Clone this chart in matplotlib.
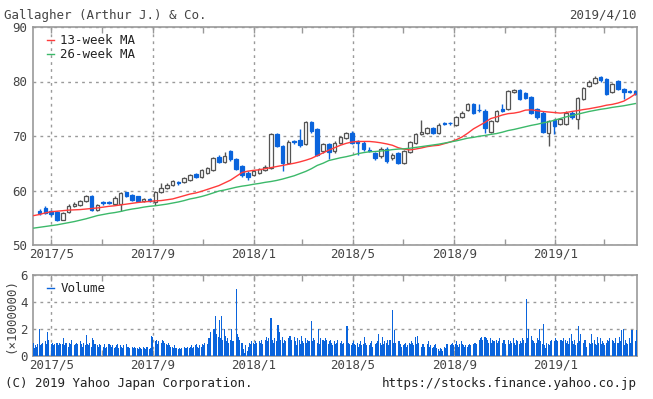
import numpy as np
import pandas as pd
import matplotlib
matplotlib.use("Agg")
import matplotlib.pyplot as plt
import matplotlib.dates as mdates
import matplotlib.lines as mlines

# ---------------- data ----------------
title = "Gallagher (Arthur J.) & Co."
date_label = "2019/4/10"
ma_labels = ["13-week MA", "26-week MA"]
vol_label = "Volume"

# weekly candles (week start Monday), from 2017-04-17
opens = [56.2, 56.7, 56.3, 56.1, 54.6, 56.1, 57.1, 57.4, 58.0, 59.0,
         56.4, 57.9, 57.9, 57.6, 57.6, 59.7, 59.2, 58.9, 58.0, 58.4,
         57.8, 59.8, 60.4, 61.0, 61.5, 61.5, 62.0, 63.0, 62.5, 63.2,
         63.8, 66.2, 65.3, 67.2, 65.8, 64.5, 63.3, 62.9, 63.3, 63.8,
         64.2, 70.3, 68.2, 65.1, 69.0, 69.2, 68.5, 72.6, 71.2, 67.2,
         68.6, 67.2, 68.8, 69.7, 70.6, 69.1, 68.8, 67.5, 66.9, 66.3,
         67.7, 65.9, 66.8, 65.1, 67.0, 68.8, 70.3, 70.6, 71.4, 70.6,
         72.3, 72.4, 72.1, 73.5, 74.7, 75.8, 74.8, 74.6, 70.8, 72.7,
         74.9, 74.9, 78.1, 78.4, 77.8, 77.1, 74.9, 74.3, 70.6, 72.9,
         72.2, 72.2, 74.3, 73.1, 76.8, 79.1, 79.7, 80.9, 80.5, 78.0,
         80.0, 78.6, 78.3, 78.2]
closes = [55.8, 55.9, 55.7, 54.6, 55.8, 57.2, 57.5, 58.0, 59.0, 56.4,
          57.3, 57.7, 57.7, 58.7, 59.6, 59.0, 58.3, 58.0, 58.5, 58.0,
          59.8, 60.4, 61.0, 61.8, 61.3, 62.3, 62.9, 62.5, 63.7, 64.2,
          66.0, 65.2, 66.4, 65.8, 64.0, 62.8, 62.5, 63.5, 63.9, 64.4,
          70.4, 68.2, 65.1, 68.9, 68.9, 68.3, 72.6, 70.9, 66.6, 68.6,
          67.1, 68.8, 69.8, 70.5, 68.8, 68.8, 67.6, 67.3, 65.9, 67.7,
          65.4, 66.6, 65.1, 67.2, 68.9, 70.3, 70.7, 71.4, 70.5, 72.1,
          72.2, 72.3, 73.4, 74.3, 75.8, 74.3, 74.7, 71.5, 72.8, 74.6,
          74.6, 78.2, 78.5, 76.8, 76.9, 74.3, 73.4, 70.8, 72.8, 71.9,
          73.1, 74.3, 73.4, 77.0, 78.8, 80.0, 80.7, 80.2, 77.7, 79.6,
          78.6, 78.0, 78.0, 77.7]
highs = [56.6, 57.2, 56.5, 56.3, 56.0, 57.5, 57.8, 58.3, 59.2, 59.1,
         57.6, 58.0, 58.0, 58.9, 59.7, 59.8, 59.3, 59.0, 58.7, 58.6,
         60.0, 61.3, 61.3, 62.0, 61.7, 62.5, 63.1, 63.2, 63.9, 64.4,
         66.2, 66.5, 67.0, 67.4, 66.0, 64.7, 63.5, 63.7, 64.1, 64.6,
         70.6, 70.5, 68.4, 69.2, 69.3, 71.2, 72.8, 72.7, 71.4, 68.8,
         68.8, 69.0, 70.0, 70.7, 70.9, 69.3, 69.0, 67.9, 67.1, 67.9,
         67.9, 66.8, 67.0, 67.4, 69.1, 70.5, 73.0, 71.6, 71.6, 72.3,
         72.5, 72.6, 73.6, 74.5, 76.1, 76.0, 75.9, 75.0, 73.0, 74.8,
         75.8, 78.4, 78.7, 78.6, 78.0, 77.3, 75.1, 74.5, 73.0, 73.1,
         73.3, 74.5, 74.5, 77.2, 79.0, 80.2, 81.0, 81.1, 80.7, 79.8,
         80.2, 78.8, 78.5, 78.4]
lows = [55.5, 55.6, 55.4, 54.4, 54.5, 55.9, 56.9, 57.2, 57.8, 56.2,
        56.2, 57.4, 57.5, 57.4, 56.2, 58.8, 58.1, 57.8, 57.8, 57.8,
        57.4, 59.6, 60.2, 60.8, 61.0, 61.3, 61.8, 62.3, 62.3, 63.0,
        63.6, 65.0, 65.1, 65.5, 63.8, 62.5, 62.0, 62.6, 63.0, 63.6,
        64.0, 67.9, 63.6, 64.9, 68.6, 68.0, 68.3, 70.5, 66.3, 66.9,
        65.7, 66.9, 68.6, 69.5, 68.5, 66.6, 67.3, 67.0, 65.6, 66.0,
        65.1, 65.6, 64.9, 64.9, 66.8, 68.6, 70.1, 70.4, 70.3, 70.4,
        72.0, 72.1, 71.9, 73.3, 74.5, 74.1, 74.4, 70.6, 70.6, 72.5,
        74.4, 74.7, 77.9, 76.6, 76.7, 74.1, 73.2, 70.6, 68.1, 70.4,
        72.0, 72.0, 73.2, 71.2, 76.6, 78.9, 79.5, 80.0, 77.5, 77.8,
        78.4, 76.8, 77.8, 77.5]

# moving averages, weekly from 2017-04-10
ma13 = [55.4, 55.6, 55.9, 56.1, 56.2, 56.3, 56.4, 56.45, 56.5, 56.6,
        56.7, 56.8, 56.95, 57.1, 57.2, 57.35, 57.5, 57.65, 57.8, 57.9,
        58.0, 58.1, 58.15, 58.3, 58.45, 58.75, 59.05, 59.35, 59.55, 59.85,
        60.2, 60.55, 60.9, 61.4, 61.9, 62.6, 63.3, 63.55, 63.7, 63.8,
        64.0, 64.2, 64.4, 64.6, 64.8, 65.0, 65.25, 65.55, 65.9, 66.4,
        66.9, 67.4, 67.85, 68.3, 68.65, 68.9, 69.0, 69.0, 69.0, 68.9,
        68.75, 68.55, 68.3, 67.85, 67.6, 67.45, 67.6, 67.8, 68.05, 68.2,
        68.3, 68.6, 68.9, 69.3, 69.8, 70.5, 71.3, 71.9, 72.5, 73.2,
        73.5, 73.85, 74.1, 74.2, 74.4, 74.75, 74.8, 74.65, 74.5, 74.4,
        74.3, 74.2, 74.3, 74.5, 74.65, 74.85, 75.0, 75.2, 75.4, 75.65,
        75.8, 76.05, 76.4, 77.0, 77.7]
ma26 = [53.1, 53.25, 53.4, 53.55, 53.7, 53.9, 54.1, 54.3, 54.55, 54.8,
        55.1, 55.4, 55.6, 55.8, 55.95, 56.15, 56.4, 56.6, 56.75, 56.95,
        57.1, 57.2, 57.35, 57.5, 57.7, 57.9, 58.15, 58.45, 58.65, 58.9,
        59.2, 59.55, 59.9, 60.1, 60.35, 60.6, 60.8, 60.95, 61.15, 61.3,
        61.5, 61.65, 61.85, 62.1, 62.4, 62.7, 63.1, 63.5, 64.0, 64.6,
        65.0, 65.5, 65.75, 66.0, 66.2, 66.45, 66.75, 66.95, 67.1, 67.15,
        67.25, 67.35, 67.5, 67.6, 67.65, 67.75, 67.9, 68.05, 68.2, 68.35,
        68.5, 68.7, 68.9, 69.1, 69.35, 69.6, 69.75, 69.95, 70.1, 70.3,
        70.45, 70.7, 71.0, 71.2, 71.45, 71.7, 71.95, 72.15, 72.4, 72.6,
        72.9, 73.2, 73.5, 73.75, 74.0, 74.25, 74.5, 74.7, 74.9, 75.05,
        75.25, 75.4, 75.55, 75.75, 75.95]

# daily volume (millions), business days from 2017-04-10
volume = [
    1.0, 0.6, 0.8, 0.7, 0.9,  2.0, 0.8, 0.9, 1.0, 0.8,  1.1, 0.7, 0.9, 1.75, 1.2,
    0.7, 0.9, 1.0, 0.8, 0.9,  1.0, 0.7, 0.8, 1.0, 0.9,  0.9, 1.3, 0.8, 0.9, 1.0,
    0.7, 1.0, 0.9, 0.8, 1.2,  0.8, 0.9, 0.7, 1.0, 0.9,  1.1, 0.8, 0.9, 0.7, 1.0,
    0.8, 1.55, 0.9, 0.8, 1.0,  0.7, 1.3, 1.2, 0.8, 0.9,  0.8, 0.7, 0.9, 0.6, 0.8,
    0.7, 0.9, 0.8, 0.6, 0.7,  0.9, 0.6, 0.8, 0.7, 0.8,  0.6, 0.7, 0.8, 0.9, 0.6,
    0.8, 0.7, 0.6, 0.8, 0.7,  0.9, 0.6, 0.7, 0.5, 0.6,  0.7, 0.6, 0.5, 0.7, 0.6,
    0.6, 0.5, 0.7, 0.6, 0.5,  0.7, 0.6, 0.5, 0.6, 0.7,  0.5, 0.6, 1.5, 1.4, 1.2,
    1.1, 1.0, 1.2, 0.9, 1.1,  1.0, 0.9, 1.2, 1.1, 1.0,  0.9, 0.8, 1.0, 0.8, 0.7,
    0.7, 0.6, 0.8, 0.5, 0.6,  0.5, 0.6, 0.4, 0.5, 0.6,  0.7, 0.6, 0.5, 0.6, 0.7,
    0.6, 0.7, 0.8, 0.6, 0.7,  0.8, 0.9, 0.7, 0.6, 0.8,  0.7, 0.9, 0.6, 0.8, 1.0,
    0.9, 1.0, 1.3, 1.1, 1.8,  1.2, 2.0, 1.4, 3.0, 1.6,  1.4, 2.7, 1.3, 3.0, 1.2,
    2.0, 1.5, 1.1, 1.3, 1.0,  1.2, 2.0, 0.9, 1.1, 1.0,  5.0, 1.6, 1.0, 1.4, 1.2,
    1.0, 0.3, 0.5, 0.2, 0.8,  0.4, 0.7, 1.0, 0.9, 1.1,  1.0, 0.9, 1.1, 0.8, 1.0,
    1.1, 0.9, 1.0, 1.2, 0.9,  1.0, 1.2, 1.4, 1.1, 1.3,  2.8, 1.5, 1.2, 1.0, 1.3,
    1.1, 2.3, 2.3, 1.8, 1.2,  1.4, 1.0, 1.2, 0.9, 1.1,  1.3, 1.0, 1.5, 0.9, 1.2,
    1.0, 1.4, 1.1, 0.8, 1.3,  1.2, 0.9, 1.5, 1.1, 1.0,  1.3, 1.0, 1.2, 0.9, 1.1,
    2.6, 1.1, 1.0, 1.3, 1.2,  1.0, 2.0, 1.1, 0.9, 1.3,  1.2, 1.0, 1.1, 1.3, 1.2,
    0.9, 1.1, 1.2, 1.0, 0.8,  1.1, 0.9, 1.0, 1.2, 0.8,  1.0, 1.1, 0.9, 0.8, 1.0,
    0.9, 2.2, 1.3, 1.0, 0.9,  0.8, 1.0, 1.1, 0.9, 0.8,  1.0, 0.7, 0.9, 1.1, 0.8,
    0.9, 1.4, 1.0, 0.8, 0.7,  0.8, 1.0, 0.9, 1.1, 0.7,  0.9, 0.6, 1.0, 1.1, 1.6,
    1.0, 0.8, 1.4, 0.9, 1.1,  1.0, 1.2, 0.8, 1.0, 1.2,  3.4, 1.0, 0.9, 1.9, 1.0,
    0.9, 1.1, 0.8, 0.9, 0.7,  0.8, 0.9, 1.0, 0.7, 0.8,  1.0, 0.9, 1.1, 1.0, 0.8,
    1.4, 0.9, 1.5, 0.8, 1.0,  0.7, 0.9, 0.8, 0.9, 0.7,  0.8, 0.9, 1.1, 0.7, 0.8,
    0.6, 0.7, 0.8, 0.9, 0.6,  0.5, 0.4, 0.6, 0.5, 0.4,  0.7, 0.6, 0.8, 0.9, 0.7,
    0.8, 0.9, 0.7, 1.0, 0.8,  0.9, 1.1, 0.8, 0.7, 0.9,  1.1, 0.9, 0.8, 0.7, 0.8,
    0.7, 0.8, 0.9, 0.6, 0.8,  0.9, 0.7, 1.0, 0.8, 0.9,  1.2, 1.0, 1.3, 1.4, 1.2,
    1.4, 1.1, 1.3, 1.2, 1.0,  1.3, 1.0, 1.2, 0.9, 1.1,  1.2, 1.0, 0.9, 1.1, 1.3,
    1.0, 0.8, 1.2, 1.1, 0.9,  1.0, 1.2, 0.9, 1.1, 1.0,  1.3, 1.0, 0.8, 1.2, 1.1,
    0.9, 1.1, 1.0, 1.3, 1.2,  1.0, 4.2, 1.0, 1.3, 2.0,  1.5, 0.9, 1.2, 1.1, 1.0,
    1.0, 1.3, 1.2, 2.0, 1.1,  0.9, 2.4, 0.8, 0.6, 1.0,  0.9, 0.8, 1.1, 1.2, 1.0,
    1.1, 1.3, 1.0, 1.2, 1.1,  0.9, 1.2, 1.0, 1.1, 1.3,  1.2, 1.0, 1.1, 0.9, 1.3,
    1.6, 1.1, 0.9, 1.2, 0.8,  1.0, 2.2, 1.1, 0.8, 1.6,  1.0, 0.8, 1.2, 0.9, 0.7,
    0.8, 1.0, 0.9, 1.6, 1.0,  1.2, 0.9, 0.8, 1.4, 1.0,  1.3, 0.9, 1.1, 1.0, 0.8,
    1.0, 1.2, 0.9, 1.1, 1.3,  1.2, 1.1, 0.9, 1.0, 1.3,  1.0, 0.9, 1.4, 1.1, 1.9,
    2.0, 0.8, 1.2, 1.0, 0.9,  1.3, 1.0, 1.1, 1.9, 1.0,  1.1, 1.9]

candle_dates = pd.date_range("2017-04-17", periods=len(opens), freq="7D")
ma_dates = pd.date_range("2017-04-10", periods=len(ma13), freq="7D")
vol_dates = pd.bdate_range("2017-04-10", periods=len(volume))

# ---------------- style ----------------
FONT = "DejaVu Sans Mono"
TXT = "#444444"
GRID = "#9a9a9a"
FRAME = "#999999"
BLUE = "#0a64dc"
UPEDGE = "#555555"
RED = "#ff3b3b"
GREEN = "#3cb96a"

plt.rcParams["font.family"] = FONT
plt.rcParams["font.size"] = 9

fig = plt.figure(figsize=(6.53, 3.99), dpi=100)
W, H = 653, 399
def box(l, t, r, b):
    return [l / W, 1 - b / H, (r - l) / W, (b - t) / H]

ax = fig.add_axes(box(33, 27, 637, 245))
axv = fig.add_axes(box(33, 275, 637, 356))

xlim = (mdates.date2num(pd.Timestamp("2017-04-09")),
        mdates.date2num(pd.Timestamp("2019-04-10")))

# candles
cd = mdates.date2num(candle_dates)
o = np.array(opens); c = np.array(closes)
hi = np.array(highs); lo = np.array(lows)
up = c >= o
wick_cols = np.where(up, UPEDGE, BLUE)
ax.vlines(cd, lo, hi, colors=wick_cols, lw=1, zorder=3)
body_bot = np.minimum(o, c)
body_h = np.maximum(np.abs(c - o), 0.12)
ax.bar(cd[up], body_h[up], bottom=body_bot[up], width=4.3,
       facecolor="white", edgecolor=UPEDGE, lw=0.9, zorder=4)
ax.bar(cd[~up], body_h[~up], bottom=body_bot[~up], width=4.3,
       facecolor=BLUE, edgecolor=BLUE, lw=0.9, zorder=4)

# moving averages
md = mdates.date2num(ma_dates)
l1, = ax.plot(md, ma13, color=RED, lw=1, zorder=5)
l2, = ax.plot(md, ma26, color=GREEN, lw=1, zorder=5)

ax.set_ylim(50, 90)
ax.set_yticks([50, 60, 70, 80, 90])
ax.set_xlim(*xlim)

# volume
vd = mdates.date2num(vol_dates)
axv.bar(vd, volume, width=1.35, color=BLUE, lw=0, zorder=3)
axv.set_ylim(0, 6)
axv.set_yticks([0, 2, 4, 6])
axv.set_xlim(*xlim)

for a in (ax, axv):
    a.xaxis.set_major_locator(mdates.MonthLocator(bymonth=[1, 5, 9]))
    a.xaxis.set_minor_locator(mdates.MonthLocator(bymonth=[3, 7, 11]))
    a.xaxis.set_major_formatter(mdates.DateFormatter("%Y/%-m"))
    a.grid(True, which="major", color=GRID, lw=1, ls=(0, (2, 3)))
    a.set_axisbelow(True)
    a.tick_params(which="both", direction="in", top=True, right=True,
                  length=4, width=1, color=FRAME, labelcolor=TXT,
                  labelsize=9, pad=2)
    a.tick_params(axis="y", length=0, pad=4)
    for s in a.spines.values():
        s.set_color(FRAME)
        s.set_linewidth(1.2)

# legends
leg = ax.legend([l1, l2], ma_labels, loc="upper left", frameon=False,
                handlelength=0.6, handletextpad=0.5, borderaxespad=0.2,
                labelspacing=0.05, prop={"family": FONT, "size": 9},
                bbox_to_anchor=(0.01, 1.0))
for t in leg.get_texts():
    t.set_color("#222222")
vh = mlines.Line2D([], [], color=BLUE, lw=1)
legv = axv.legend([vh], [vol_label], loc="upper left", frameon=False,
                  handlelength=0.6, handletextpad=0.5, borderaxespad=0.2,
                  prop={"family": FONT, "size": 9},
                  bbox_to_anchor=(0.01, 1.0))
for t in legv.get_texts():
    t.set_color("#222222")

axv.set_ylabel("(×1000000)", color=TXT, fontsize=9, labelpad=2)

# texts
fig.text(4 / W, 1 - 15 / H, title, ha="left", va="center", color=TXT, fontsize=9)
fig.text(637 / W, 1 - 15 / H, date_label, ha="right", va="center", color=TXT, fontsize=9)
fig.text(5 / W, 1 - 384 / H, "(C) 2019 Yahoo Japan Corporation.", ha="left",
         va="center", color="#222222", fontsize=9)
fig.text(637 / W, 1 - 384 / H, "https://stocks.finance.yahoo.co.jp", ha="right",
         va="center", color="#222222", fontsize=9)

fig.savefig("out.png", dpi=100)
